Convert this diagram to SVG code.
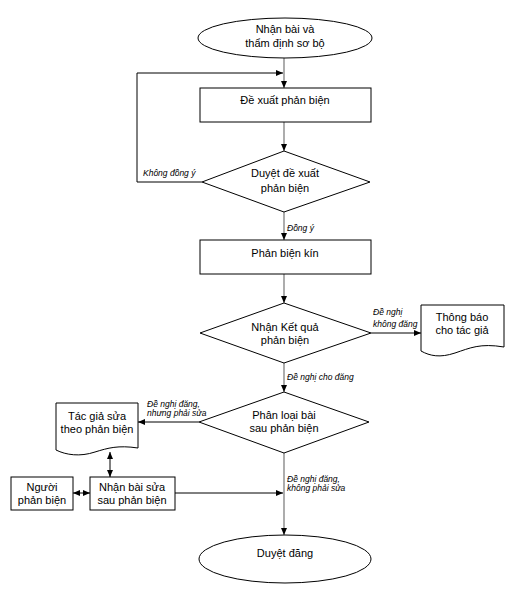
<svg xmlns="http://www.w3.org/2000/svg" width="515" height="591" viewBox="0 0 515 591">
<style>
.shape{fill:#fff;stroke:#000;stroke-width:1}
.t{font-family:"Liberation Sans",Arial,sans-serif;font-size:11px;fill:#000;text-anchor:middle}
.l{font-family:"Liberation Sans",Arial,sans-serif;font-size:8.5px;font-style:italic;fill:#000}
.g{fill:none;stroke:#808080;stroke-width:1.3}
.k{fill:none;stroke:#000;stroke-width:1}
</style>
<defs>
<marker id="a" markerUnits="userSpaceOnUse" markerWidth="8" markerHeight="8" viewBox="0 0 8 8" refX="7" refY="4" orient="auto">
<path d="M0,1 L7,4 L0,7 Z" fill="#000"/>
</marker>
<marker id="s" markerUnits="userSpaceOnUse" markerWidth="8" markerHeight="8" viewBox="0 0 8 8" refX="1" refY="4" orient="auto">
<path d="M8,1 L1,4 L8,7 Z" fill="#000"/>
</marker>
</defs>
<rect width="515" height="591" fill="#fff"/>
<g id="connectors">
<line class="g" x1="284" y1="58" x2="284" y2="88" marker-end="url(#a)"/>
<polyline class="k" points="202,182 137,182 137,73 283,73" marker-end="url(#a)"/>
<line class="g" x1="284" y1="122" x2="284" y2="151" marker-end="url(#a)"/>
<line class="g" x1="284" y1="212" x2="284" y2="240" marker-end="url(#a)"/>
<line class="g" x1="284" y1="274" x2="284" y2="303" marker-end="url(#a)"/>
<line class="k" x1="371" y1="333" x2="421" y2="333" marker-end="url(#a)"/>
<line class="g" x1="284" y1="363" x2="284" y2="392" marker-end="url(#a)"/>
<line class="k" x1="199" y1="422" x2="138" y2="422" marker-end="url(#a)"/>
<line class="k" x1="110" y1="452" x2="110" y2="477" marker-start="url(#s)" marker-end="url(#a)"/>
<line class="k" x1="73" y1="493" x2="90" y2="493" marker-start="url(#s)" marker-end="url(#a)"/>
<line class="k" x1="175" y1="493" x2="283" y2="493" marker-end="url(#a)"/>
<line class="g" x1="284" y1="453" x2="284" y2="535" marker-end="url(#a)"/>
<text class="l" x="143" y="176">Không đồng ý</text>
<text class="l" x="287" y="231">Đồng ý</text>
<text class="l" x="373" y="315">Đề nghị</text>
<text class="l" x="373" y="327">không đăng</text>
<text class="l" x="287" y="380">Đề nghị cho đăng</text>
<text class="l" x="147" y="407">Đề nghị đăng,</text>
<text class="l" x="147" y="416">nhưng phải sửa</text>
<text class="l" x="287" y="482">Đề nghị đăng,</text>
<text class="l" x="287" y="491">không phải sửa</text>
</g>
<g id="start">
<ellipse class="shape" cx="285" cy="38" rx="87" ry="20"/>
<text class="t" x="285" y="33">Nhận bài và</text>
<text class="t" x="285" y="47">thẩm định sơ bộ</text>
</g>
<g id="dexuat">
<rect class="shape" x="200" y="88" width="171" height="34"/>
<text class="t" x="285" y="104">Đề xuất phản biện</text>
</g>
<g id="duyet">
<polygon class="shape" points="284,151 370,182 284,212 202,182"/>
<text class="t" x="285" y="177">Duyệt đề xuất</text>
<text class="t" x="285" y="192">phản biện</text>
</g>
<g id="phanbienkin">
<rect class="shape" x="200" y="240" width="171" height="34"/>
<text class="t" x="285" y="257">Phản biện kín</text>
</g>
<g id="nhanketqua">
<polygon class="shape" points="284,303 371,333 284,363 200,333"/>
<text class="t" x="285" y="331">Nhận Kết quả</text>
<text class="t" x="285" y="344">phản biện</text>
</g>
<g id="thongbao">
<path class="shape" d="M421,305 H504 V347 C480,343 470,348 455,353 C440,358 430,356 421,351 Z"/>
<text class="t" x="462" y="321">Thông báo</text>
<text class="t" x="462" y="334">cho tác giả</text>
</g>
<g id="phanloai">
<polygon class="shape" points="284,392 369,422 284,453 199,422"/>
<text class="t" x="284" y="419">Phân loại bài</text>
<text class="t" x="284" y="432">sau phản biện</text>
</g>
<g id="tacgia">
<path class="shape" d="M56,403 H138 V448 C118,445 108,448 95,452 C80,457 66,455 56,450 Z"/>
<text class="t" x="97" y="420">Tác giả sửa</text>
<text class="t" x="97" y="433">theo phản biện</text>
</g>
<g id="nguoi">
<rect class="shape" x="11" y="477" width="62" height="33"/>
<text class="t" x="42" y="491">Người</text>
<text class="t" x="42" y="504">phản biện</text>
</g>
<g id="nhanbaisua">
<rect class="shape" x="90" y="477" width="85" height="33"/>
<text class="t" x="132" y="491">Nhận bài sửa</text>
<text class="t" x="132" y="504">sau phản biện</text>
</g>
<g id="end">
<ellipse class="shape" cx="285" cy="559" rx="86" ry="24"/>
<text class="t" x="285" y="557">Duyệt đăng</text>
</g>
</svg>
